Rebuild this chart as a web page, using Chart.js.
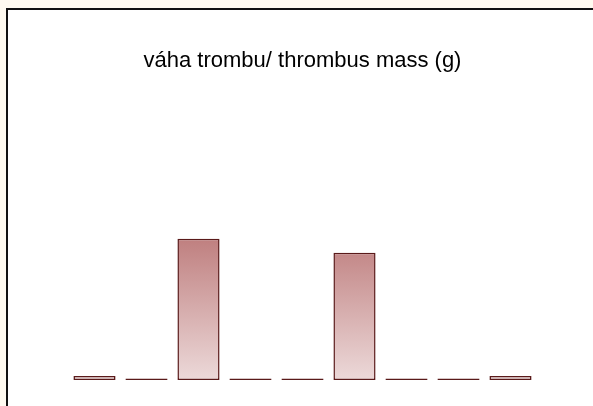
<!DOCTYPE html>
<html>
<head>
<meta charset="utf-8">
<script src="https://cdn.jsdelivr.net/npm/chart.js@4/dist/chart.umd.min.js"></script>
<style>
html,body{margin:0;padding:0;background:#fffaf0;}
canvas{display:block;}
</style>
</head>
<body>
<canvas id="c" width="593" height="406"></canvas>
<script>
const titleText = 'váha trombu/ thrombus mass (g)';
const categories = ['1','2','3','4','5','6','7','8','9'];
const massValues = [0.1, 0, 3.53, 0, 0, 3.18, 0, 0, 0.1];
const yMax = 7;

const framePlugin = {
  id: 'frame',
  beforeDraw(chart) {
    const ctx = chart.ctx;
    ctx.save();
    ctx.fillStyle = '#fffaf0';
    ctx.fillRect(0, 0, chart.width, chart.height);
    ctx.fillStyle = '#ffffff';
    ctx.fillRect(7, 9, chart.width, chart.height);
    ctx.strokeStyle = '#111111';
    ctx.lineWidth = 2;
    ctx.beginPath();
    ctx.moveTo(7, chart.height + 5);
    ctx.lineTo(7, 9);
    ctx.lineTo(chart.width + 5, 9);
    ctx.stroke();
    ctx.restore();
  }
};

function barGradient(context) {
  const chart = context.chart;
  const area = chart.chartArea;
  if (!area) return '#d0a0a0';
  const g = chart.ctx.createLinearGradient(0, 238, 0, area.bottom);
  g.addColorStop(0, '#bf7f7f');
  g.addColorStop(1, '#ecd9d9');
  return g;
}

new Chart(document.getElementById('c'), {
  type: 'bar',
  data: {
    labels: categories,
    datasets: [{
      data: massValues,
      backgroundColor: barGradient,
      borderColor: '#5a1a1a',
      borderWidth: 1.5,
      borderSkipped: false,
      minBarLength: 1.5,
      barPercentage: 0.9,
      categoryPercentage: 0.9
    }]
  },
  plugins: [framePlugin],
  options: {
    responsive: false,
    animation: false,
    devicePixelRatio: 1,
    layout: { padding: { left: 68.5, right: 56.5, top: 0, bottom: 26 } },
    scales: {
      x: { display: false },
      y: { display: false, min: 0, max: yMax }
    },
    plugins: {
      legend: { display: false },
      tooltip: { enabled: false },
      title: {
        display: true,
        text: titleText,
        color: '#000000',
        font: { family: 'Liberation Sans, Arial, sans-serif', size: 22, weight: 'normal', lineHeight: 1.2 },
        padding: { top: 47.5, bottom: 26.1 }
      }
    }
  }
});
</script>
</body>
</html>
